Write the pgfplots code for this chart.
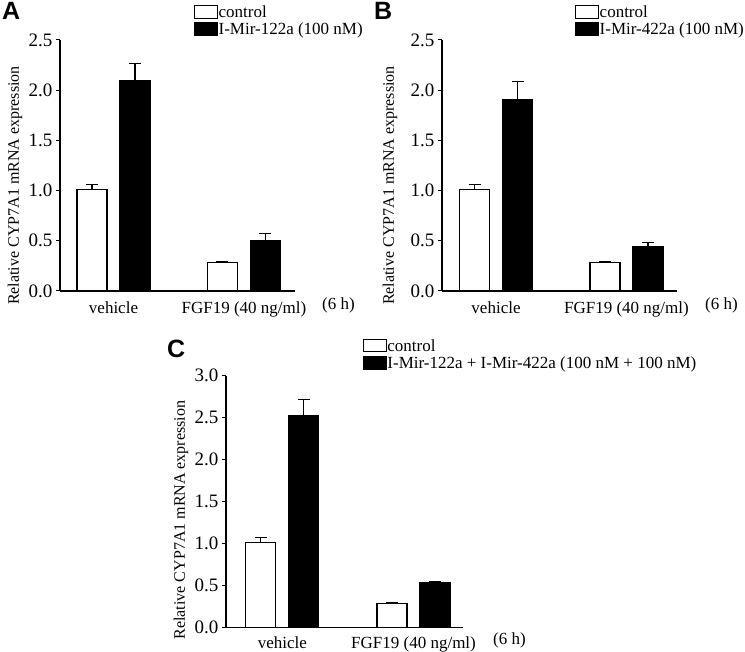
\documentclass[border=0pt]{standalone}
\usepackage{fontspec}
\setmainfont{Liberation Serif}
\newfontfamily\panelfont{Liberation Sans}
\usepackage{pgfplots}
\pgfplotsset{compat=1.18}

\newcommand{\tickfont}{\fontsize{19}{21}\selectfont}
\newcommand{\labfont}{\fontsize{17}{19}\selectfont}
\newcommand{\yfont}{\fontsize{16}{18}\selectfont}

\pgfplotsset{
  panel/.style={
    scale only axis,
    anchor=origin,
    axis lines=left,
    axis line style={-, line width=1.1pt},
    ymin=0,
    xtick={1,2},
    xticklabels={vehicle, FGF19 (40 ng/ml)},
    x tick style={draw=none},
    y tick style={line width=1pt, black},
    tick align=outside,
    major tick length=4pt,
    /pgf/number format/assume math mode=true,
    yticklabel style={font=\tickfont, /pgf/number format/.cd, fixed, fixed zerofill, precision=1},
    xticklabel style={font=\labfont, anchor=base, yshift=-19pt},
    ylabel={Relative CYP7A1 mRNA expression},
    ylabel style={font=\yfont, anchor=center},
    ybar=13pt,
    bar width=30pt,
    legend style={draw=none, fill=none, font=\labfont, inner sep=0pt,
      row sep=3pt, nodes={inner sep=0.5pt}, anchor=north west},
    legend cell align=left,
  },
  boxleg/.style={legend image code/.code={\draw[##1, line width=1pt] (0pt,-6pt) rectangle (23pt,6.5pt);}},
  ctrl/.style={draw=black, fill=white, line width=1.1pt, boxleg,
    error bars/.cd, y dir=plus, y explicit,
    error bar style={line width=1.1pt, black},
    error mark options={rotate=90, mark size=6pt, line width=1.1pt, black}},
  treat/.style={draw=black, fill=black, line width=1.1pt, boxleg,
    error bars/.cd, y dir=plus, y explicit,
    error bar style={line width=1.1pt, black},
    error mark options={rotate=90, mark size=6pt, line width=1.1pt, black}},
}

\begin{document}
\begin{tikzpicture}[x=1pt, y=1pt]
\useasboundingbox (0,0) rectangle (745,652);

% Panel A
\begin{axis}[panel, at={(60pt,361pt)}, width=235pt, height=251pt,
  xmin=0.59, xmax=2.391, ymax=2.5, ytick={0,0.5,...,2.5},
  ylabel style={at={(axis description cs:-0.1915,0.42)}},
  legend style={at={(rel axis cs:0.570,1.14)}}]
\addplot[ctrl] coordinates {(1,1.01) +- (0,0.05) (2,0.28) +- (0,0.015)};
\addlegendentry{control}
\addplot[treat] coordinates {(1,2.10) +- (0,0.17) (2,0.505) +- (0,0.07)};
\addlegendentry{I-Mir-122a (100 nM)}
\end{axis}
\node[anchor=north west, inner sep=0pt, font=\panelfont\bfseries\fontsize{25}{25}\selectfont] at (2,650) {A};
\node[anchor=base west, inner sep=0pt, font=\labfont] at (322,342) {(6 h)};

% Panel B
\begin{axis}[panel, at={(442pt,361pt)}, width=235pt, height=251pt,
  xmin=0.586, xmax=2.387, ymax=2.5, ytick={0,0.5,...,2.5},
  ylabel style={at={(axis description cs:-0.2213,0.42)}},
  legend style={at={(rel axis cs:0.566,1.14)}}]
\addplot[ctrl] coordinates {(1,1.01) +- (0,0.05) (2,0.28) +- (0,0.015)};
\addlegendentry{control}
\addplot[treat] coordinates {(1,1.91) +- (0,0.18) (2,0.44) +- (0,0.045)};
\addlegendentry{I-Mir-422a (100 nM)}
\end{axis}
\node[anchor=north west, inner sep=0pt, font=\panelfont\bfseries\fontsize{25}{25}\selectfont] at (374,650) {B};
\node[anchor=base west, inner sep=0pt, font=\labfont] at (705,342) {(6 h)};

% Panel C
\begin{axis}[panel, at={(226pt,24.3pt)}, width=237pt, height=252pt,
  xmin=0.571, xmax=2.377, ymax=3.0, ytick={0,0.5,...,3.0},
  xticklabel style={yshift=2pt},
  ylabel style={at={(axis description cs:-0.19,0.427)}},
  legend style={at={(rel axis cs:0.577,1.147)}}]
\addplot[ctrl] coordinates {(1,1.01) +- (0,0.06) (2,0.29) +- (0,0.012)};
\addlegendentry{control}
\addplot[treat] coordinates {(1,2.53) +- (0,0.19) (2,0.535) +- (0,0.012)};
\addlegendentry{I-Mir-122a + I-Mir-422a (100 nM + 100 nM)}
\end{axis}
\node[anchor=north west, inner sep=0pt, font=\panelfont\bfseries\fontsize{25}{25}\selectfont] at (167,312) {C};
\node[anchor=base west, inner sep=0pt, font=\labfont] at (493,7) {(6 h)};
\end{tikzpicture}
\end{document}
